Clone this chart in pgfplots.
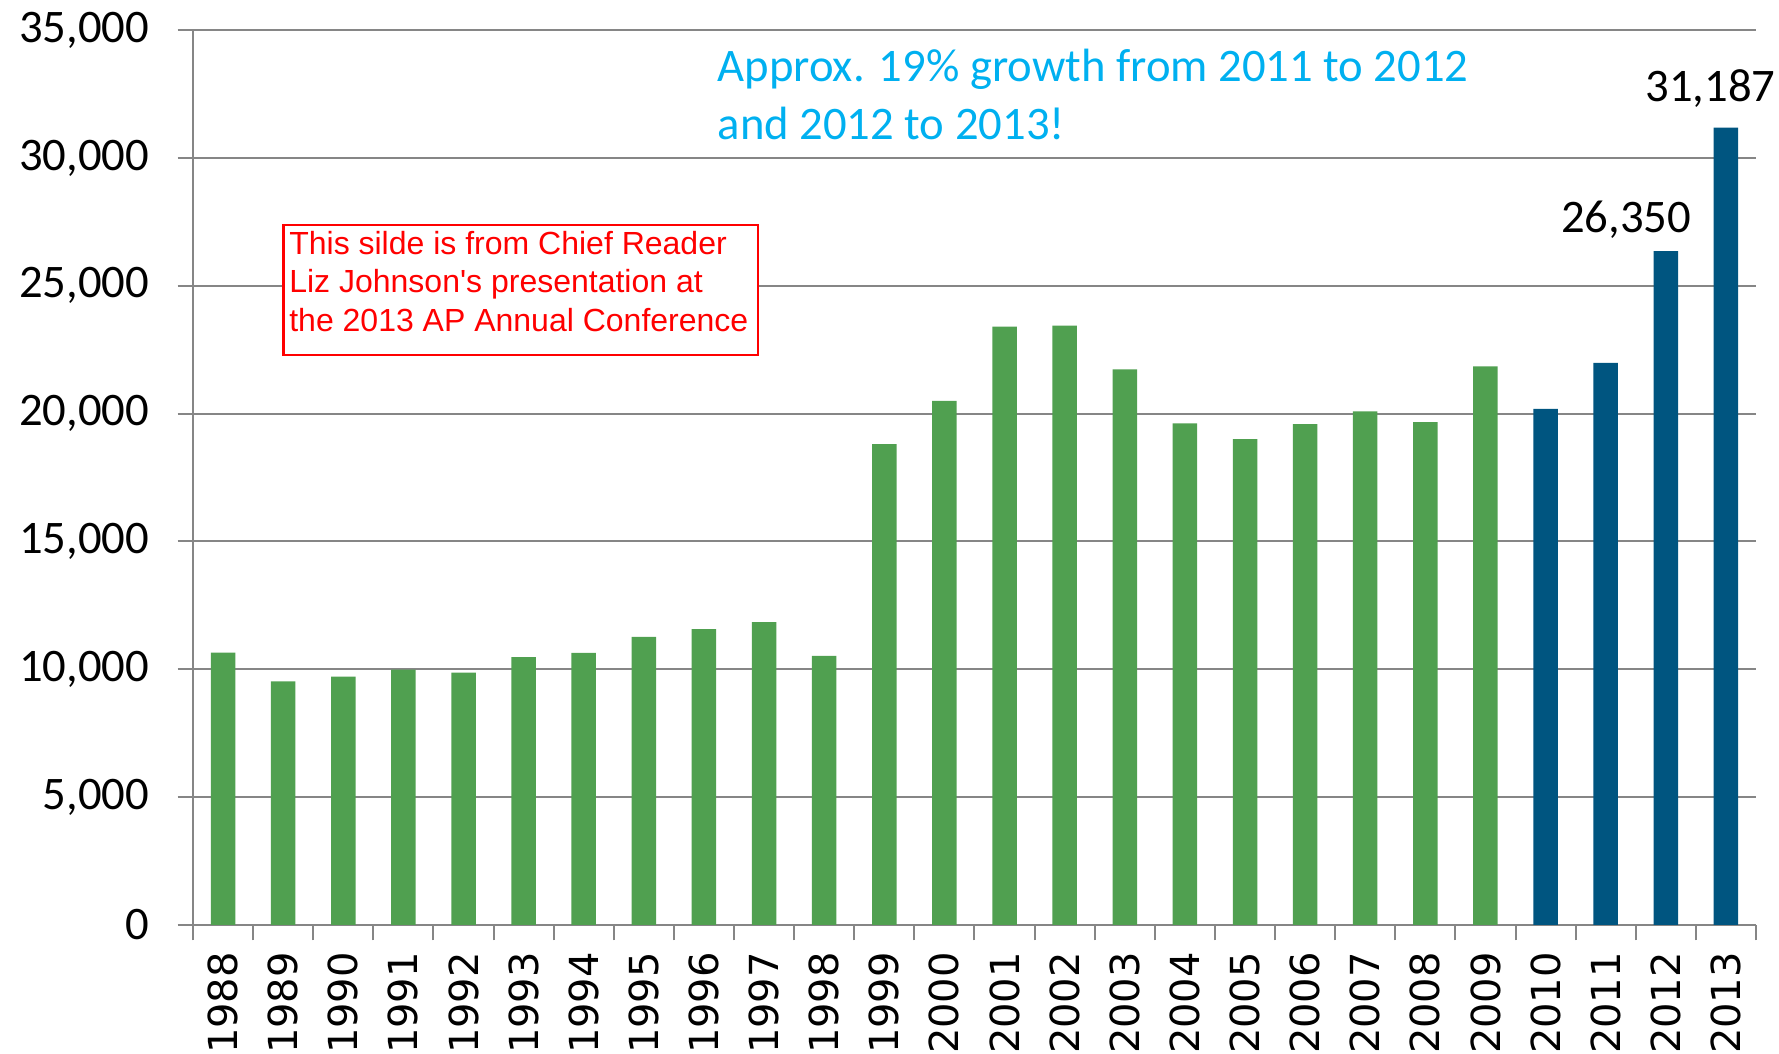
\documentclass[border=0pt]{standalone}
\usepackage{pgfplots}
\pgfplotsset{compat=1.18}
\usepackage{pgfplotstable}
\usepackage{fontspec}
\setmainfont{Carlito}
\newfontfamily\dejavu{DejaVu Sans}
\newfontfamily\arialf{Liberation Sans}
\definecolor{bargreen}{RGB}{80,160,80}
\definecolor{barblue}{RGB}{0,85,128}
\definecolor{gridgray}{RGB}{134,134,134}
\definecolor{cyantext}{RGB}{0,176,240}

\pgfplotstableread{
idx value
0 10650
1 9530
2 9710
3 9990
4 9870
5 10480
6 10640
7 11270
8 11570
9 11840
10 10520
11 18810
12 20500
13 23400
14 23440
15 21730
16 19620
17 19000
18 19590
19 20090
20 19670
21 21850
}\greendata
\pgfplotstableread{
idx value
22 20180
23 21980
24 26350
25 31187
}\bluedata

\begin{document}
\begin{tikzpicture}
\useasboundingbox (-57.9pt,-38.7pt) rectangle (475.8pt,277.5pt);
\begin{axis}[
  at={(0,0)}, anchor=south west,
  width=468.9pt, height=268.5pt, scale only axis,
  xmin=-0.5, xmax=25.5, ymin=0, ymax=35000,
  clip=false,
  axis x line*=bottom, axis y line*=left,
  axis line style={gridgray, line width=0.6pt},
  ybar, bar width=7.35pt, bar shift=0pt,
  xtick={-0.5,0.5,...,25.5},
  x tick label as interval,
  xticklabels={1988,1989,1990,1991,1992,1993,1994,1995,1996,1997,1998,1999,2000,2001,2002,2003,2004,2005,2006,2007,2008,2009,2010,2011,2012,2013},
  ytick={0,5000,...,35000},
  major tick length=4.6pt,
  tick align=outside,
  tick style={gridgray, line width=0.6pt},
  ymajorgrids, grid style={gridgray, line width=0.6pt},
  scaled y ticks=false,
  yticklabel style={font=\fontsize{14}{16}\selectfont, /pgf/number format/1000 sep={,}, xshift=-5pt},
  /pgf/number format/assume math mode=true,
  xticklabel style={rotate=90, anchor=east, font=\dejavu\fontsize{12}{14}\selectfont},
]
\addplot[fill=bargreen, draw=none] table[x=idx, y=value] {\greendata};
\addplot[fill=barblue, draw=none] table[x=idx, y=value] {\bluedata};
\node[anchor=base, font=\fontsize{14}{16}\selectfont, inner sep=0pt] at (axis cs:23.34,27100) {26,350};
\node[anchor=base, font=\fontsize{14}{16}\selectfont, inner sep=0pt] at (axis cs:24.74,32196) {31,187};
\end{axis}
\node[anchor=base west, font=\fontsize{14}{16}\selectfont, text=cyantext, inner sep=0pt] at (157.2pt,252.9pt) {Approx. 19\% growth from 2011 to 2012};
\node[anchor=base west, font=\fontsize{14}{16}\selectfont, text=cyantext, inner sep=0pt] at (157.2pt,235.5pt) {and 2012 to 2013!};
\draw[red, line width=0.8pt, fill=white] (27.2pt,171pt) rectangle (169.5pt,210pt);
\node[anchor=base west, font=\arialf\fontsize{9.6}{11}\selectfont, text=red, inner sep=0pt] at (28.7pt,201pt) {This silde is from Chief Reader};
\node[anchor=base west, font=\arialf\fontsize{9.6}{11}\selectfont, text=red, inner sep=0pt] at (28.7pt,189.6pt) {Liz Johnson's presentation at};
\node[anchor=base west, font=\arialf\fontsize{9.6}{11}\selectfont, text=red, inner sep=0pt] at (28.7pt,177.9pt) {the 2013 AP Annual Conference};
\end{tikzpicture}
\end{document}
